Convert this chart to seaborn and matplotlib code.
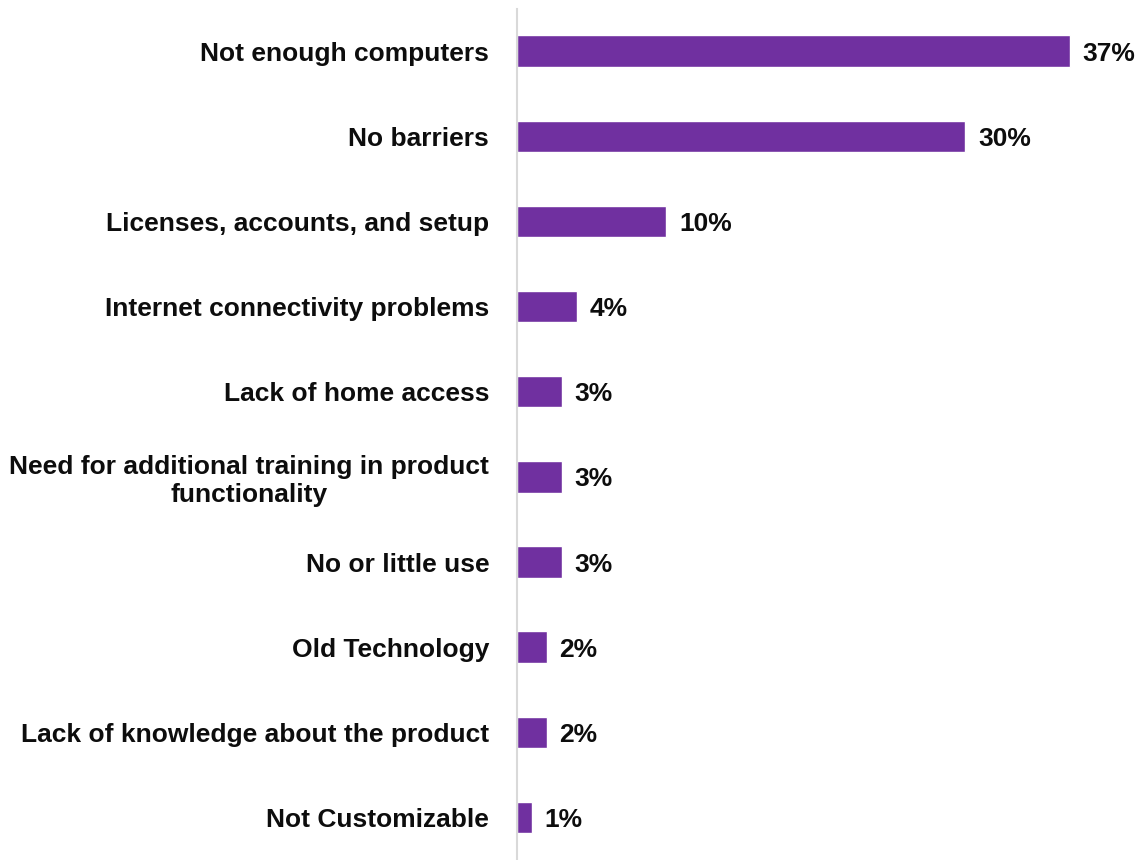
import pandas as pd
import matplotlib.pyplot as plt
import seaborn as sns

categories = [
    'Not enough computers',
    'No barriers',
    'Licenses, accounts, and setup',
    'Internet connectivity problems',
    'Lack of home access',
    'Need for additional training in product\nfunctionality',
    'No or little use',
    'Old Technology',
    'Lack of knowledge about the product',
    'Not Customizable',
]
percent = [37, 30, 10, 4, 3, 3, 3, 2, 2, 1]

df = pd.DataFrame({'barrier': categories, 'pct': percent})

sns.set_style('white')
plt.rcParams['font.family'] = ['Liberation Sans', 'DejaVu Sans']

fig = plt.figure(figsize=(11.4, 8.6), dpi=100)
ax = fig.add_axes([0.4535, 0.0, 0.5245, 0.99])

sns.barplot(data=df, x='pct', y='barrier', color='#7030A0', width=0.37,
            saturation=1, ax=ax, orient='h')

for i, v in enumerate(percent):
    ax.text(v + 0.85, i, f'{v}%', va='center_baseline', ha='left',
            fontsize=19, fontweight='bold', color='#0d0d0d')

ax.set_xlim(0, 40)
ax.set_ylim(9.5, -0.5)
ax.set_xlabel('')
ax.set_ylabel('')
ax.set_xticks([])
ax.tick_params(axis='y', length=0, pad=20)
for lbl in ax.get_yticklabels():
    lbl.set_fontsize(19)
    lbl.set_fontweight('bold')
    lbl.set_color('#0d0d0d')
    lbl.set_multialignment('center')

for s in ['top', 'right', 'bottom']:
    ax.spines[s].set_visible(False)
ax.spines['left'].set_color('#D9D9D9')
ax.spines['left'].set_linewidth(1.5)

plt.savefig('out.png', dpi=100)
